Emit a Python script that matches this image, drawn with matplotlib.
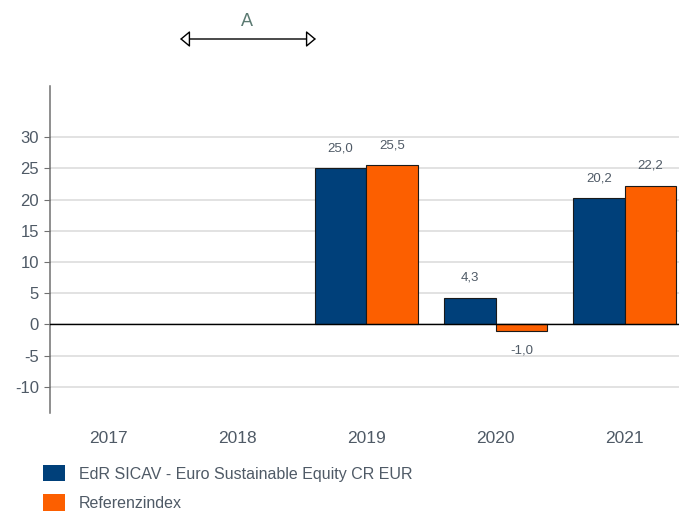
import numpy as np
import matplotlib.pyplot as plt
from matplotlib.patches import Patch, FancyArrowPatch

plt.rcParams["font.family"] = ["Liberation Sans", "DejaVu Sans"]
plt.rcParams["axes.unicode_minus"] = False

# data
years = ["2017", "2018", "2019", "2020", "2021"]
fund = [np.nan, np.nan, 25.0, 4.3, 20.2]
index = [np.nan, np.nan, 25.5, -1.0, 22.2]
fund_name = "EdR SICAV - Euro Sustainable Equity CR EUR"
index_name = "Referenzindex"

BLUE = "#00407a"
ORANGE = "#fc5f00"
TXT = "#4f5a66"

fig = plt.figure(figsize=(6.79, 5.11), dpi=100)
ax = fig.add_axes([50 / 679, 1 - 413 / 511, 1 - 50 / 679, (413 - 86) / 511])

x = np.arange(len(years))
w = 0.4
ax.bar(x - w / 2, fund, w, color=BLUE, edgecolor="#1a1a1a", linewidth=0.8, zorder=3)
ax.bar(x + w / 2, index, w, color=ORANGE, edgecolor="#1a1a1a", linewidth=0.8, zorder=3)

# value labels, comma decimal
for xs, vals in ((x - w / 2, fund), (x + w / 2, index)):
    for xi, v in zip(xs, vals):
        if np.isnan(v):
            continue
        off = 14.5 if v >= 0 else -14.5
        ax.annotate(f"{v:.1f}".replace(".", ","), (xi, v),
                    textcoords="offset points", xytext=(0, off),
                    ha="center", va="center", fontsize=9.5, color=TXT)

ax.set_xlim(-0.45, 4.42)
ax.set_ylim(-14.2, 38.2)
ax.set_yticks(np.arange(-10, 31, 5))
ax.set_xticks(x)
ax.set_xticklabels(years)
ax.axhline(0, color="black", linewidth=1.0, zorder=4)
ax.yaxis.grid(True, color="#dddddd", linewidth=1.2, zorder=0)

for s in ("top", "right", "bottom"):
    ax.spines[s].set_visible(False)
ax.spines["left"].set_color("#707070")
ax.spines["left"].set_linewidth(1.1)
ax.tick_params(axis="y", length=4, color="#707070", labelsize=12, labelcolor=TXT, pad=4)
ax.tick_params(axis="x", length=0, labelsize=12.5, labelcolor=TXT, pad=13)

# "A" marker above the chart
arr = FancyArrowPatch((180 / 679, 1 - 39 / 511), (316 / 679, 1 - 39 / 511),
                      transform=fig.transFigure,
                      arrowstyle="<|-|>,head_length=6,head_width=5",
                      shrinkA=0, shrinkB=0,
                      facecolor="white", edgecolor="black", linewidth=1.0)
fig.patches.append(arr)
fig.text(247 / 679, 1 - 21 / 511, "A", ha="center", va="center",
         fontsize=13, color="#5b7a72")

handles = [Patch(facecolor=BLUE, edgecolor="none", label=fund_name),
           Patch(facecolor=ORANGE, edgecolor="none", label=index_name)]
fig.legend(handles=handles, loc="upper left", bbox_to_anchor=(43 / 679, 1 - 465 / 511),
           frameon=False, fontsize=11.5, labelcolor=TXT, handlelength=1.38,
           handleheight=1.2, handletextpad=0.85, labelspacing=0.8,
           borderpad=0, borderaxespad=0)

fig.savefig("out.png", dpi=100)
